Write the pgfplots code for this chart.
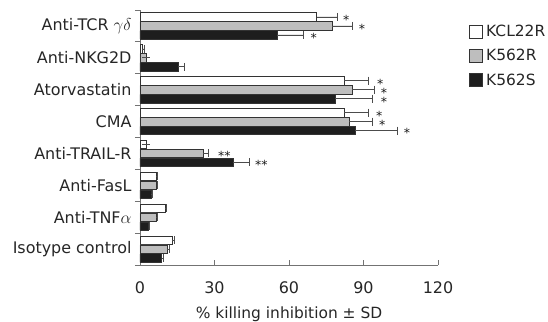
\documentclass[border=0pt]{standalone}
\usepackage{pgfplots}
\pgfplotsset{compat=1.18}
\usepackage{fontspec}
\setmainfont{DejaVu Sans}
\definecolor{barblack}{HTML}{1E1E1E}
\definecolor{bargray}{HTML}{BEBEBE}
\begin{document}
\begin{tikzpicture}
\useasboundingbox (-140bp,-57bp) rectangle (408bp,265bp);
\begin{axis}[
  at={(0,0)}, anchor=south west,
  scale only axis, width=298bp, height=255bp,
  xmin=0, xmax=120, ymin=-0.5, ymax=7.5,
  axis lines*=left,
  axis line style={black!55, line width=0.8bp},
  every tick/.style={black!55, line width=0.8bp},
  xtick={0,30,60,90,120},
  xtick align=inside,
  ytick={-0.5,0.5,...,7.5},
  y tick label as interval,
  yticklabels={Isotype control, Anti-TNF$\alpha$, Anti-FasL, Anti-TRAIL-R, CMA, Atorvastatin, Anti-NKG2D, Anti-TCR $\gamma\delta$},
  ytick align=outside,
  major tick length=5bp,
  tick label style={font=\fontsize{16}{19}\selectfont, text=black!85},
  /pgf/number format/assume math mode=true,
  xticklabel style={yshift=-13bp},
  xlabel={\% killing inhibition ± SD},
  xlabel style={font=\fontsize{15.5}{18}\selectfont, text=black!85, yshift=-6.5bp},
  legend style={at={(1.105,0.95)}, anchor=north west, draw=none, fill=none,
    font=\fontsize{15.5}{18}\selectfont, text=black!85, row sep=7.5bp, inner sep=0pt,
    /tikz/every odd column/.append style={column sep=1bp}},
  legend cell align=left,
  sqleg/.style={legend image code/.code={\draw[##1, line width=0.7bp] (0cm,-6.5bp) rectangle (13bp,6.5bp);}},
  errs/.style={error bars/.cd, x dir=plus, x explicit,
    error bar style={black!70, line width=0.7bp},
    error mark options={black!70, mark size=4bp, line width=0.7bp, rotate=90}},
]
% white: category + 0.28125
\addplot[xbar, bar width=8.5bp, bar shift=0bp, fill=white, draw=black!80, line width=0.6bp, sqleg, errs]
 coordinates {
 (71.1,7.28125) +- (8.2,0)
 (1.0,6.28125) +- (0.6,0)
 (82.2,5.28125) +- (9.6,0)
 (82.2,4.28125) +- (9.6,0)
 (2.6,3.28125) +- (0,0)
 (6.6,2.28125) +- (0.4,0)
 (10.0,1.28125) +- (0.5,0)
 (13.0,0.28125) +- (0.8,0)
 };
\addlegendentry{KCL22R}
\addplot[xbar, bar width=8.5bp, bar shift=0bp, fill=bargray, draw=black!80, line width=0.6bp, sqleg, errs]
 coordinates {
 (77.5,7) +- (7.9,0)
 (2.5,6) +- (0,0)
 (85.4,5) +- (8.8,0)
 (84.2,4) +- (9.2,0)
 (25.5,3) +- (2.2,0)
 (6.7,2) +- (0.4,0)
 (6.6,1) +- (0.4,0)
 (11.0,0) +- (0.8,0)
 };
\addlegendentry{K562R}
% black: category - 0.28125
\addplot[xbar, bar width=8.5bp, bar shift=0bp, fill=barblack, draw=black!80, line width=0.6bp, sqleg, errs]
 coordinates {
 (55.2,6.71875) +- (10.4,0)
 (15.4,5.71875) +- (2.5,0)
 (78.5,4.71875) +- (14.9,0)
 (86.6,3.71875) +- (16.9,0)
 (37.6,2.71875) +- (6.6,0)
 (4.5,1.71875) +- (0.3,0)
 (3.5,0.71875) +- (0.3,0)
 (8.7,-0.28125) +- (0.8,0)
 };
\addlegendentry{K562S}
\addplot[draw=none, mark=none, forget plot,
  nodes near coords, point meta=explicit symbolic,
  every node near coord/.style={anchor=center, inner sep=0pt, text height=5bp, text depth=0bp, yshift=-5bp, font=\fontsize{12.5}{14}\selectfont, text=black!90}]
 coordinates {
 (83,7.28) [*]
 (89.4,7) [*]
 (70,6.72) [*]
 (96.7,5.28) [*]
 (98.3,5) [*]
 (98.3,4.72) [*]
 (96.3,4.28) [*]
 (97.5,4) [*]
 (107.5,3.72) [*]
 (34,3) [**]
 (48.9,2.72) [**]
 };
\end{axis}
\end{tikzpicture}
\end{document}
